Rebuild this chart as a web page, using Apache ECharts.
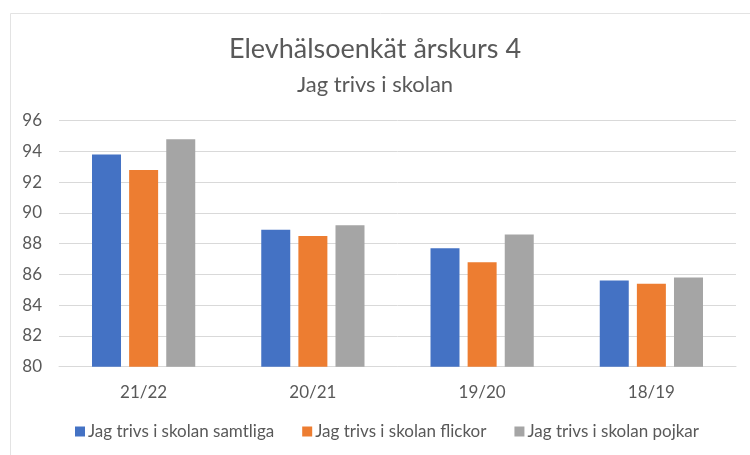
<!DOCTYPE html>
<html>
<head>
<meta charset="utf-8">
<script src="https://cdn.jsdelivr.net/npm/echarts@6/dist/echarts.min.js"></script>
<style>
  html, body { margin: 0; padding: 0; background: #fff; }
  #chart { width: 750px; height: 455px; }
</style>
</head>
<body>
<div id="chart"></div>
<script>
const categories = ['21/22', '20/21', '19/20', '18/19'];
const seriesNames = ['Jag trivs i skolan samtliga', 'Jag trivs i skolan flickor', 'Jag trivs i skolan pojkar'];
const samtliga = [93.8, 88.9, 87.7, 85.6];
const flickor = [92.8, 88.5, 86.8, 85.4];
const pojkar = [94.8, 89.2, 88.6, 85.8];
const colors = ['#4472C4', '#ED7D31', '#A5A5A5'];

const font = 'Lato';
const chart = echarts.init(document.getElementById('chart'));

const makeBar = (name, data) => ({
  name,
  type: 'bar',
  barWidth: 29,
  barGap: '28%',
  data,
});

chart.setOption({
  animation: false,
  color: colors,
  graphic: [
    {
      type: 'rect',
      shape: { x: 10.5, y: 13.5, width: 760, height: 460 },
      style: { fill: 'none', stroke: '#e3e3e3', lineWidth: 1 },
      silent: true,
    },
  ],
  title: [
    {
      text: 'Elevhälsoenkät årskurs 4',
      left: 'center',
      top: 31,
      textStyle: { fontFamily: font, fontSize: 27, fontWeight: 'normal', color: '#595959' },
    },
    {
      text: 'Jag trivs i skolan',
      left: 'center',
      top: 69,
      textStyle: { fontFamily: font, fontSize: 22, fontWeight: 'normal', color: '#595959' },
    },
  ],
  legend: {
    bottom: 10,
    left: 70,
    itemWidth: 10,
    itemHeight: 10,
    itemGap: 28,
    icon: 'rect',
    textStyle: { fontFamily: font, fontSize: 17, color: '#595959', padding: [0, 0, 0, -2] },
    data: seriesNames,
  },
  grid: { left: 59, right: 14, top: 120.7, bottom: 88.3 },
  xAxis: {
    type: 'category',
    data: categories,
    axisTick: { show: false },
    axisLine: { lineStyle: { color: '#d9d9d9' } },
    axisLabel: { fontFamily: font, fontSize: 17, color: '#595959', margin: 17 },
  },
  yAxis: {
    type: 'value',
    min: 80,
    max: 96,
    interval: 2,
    axisLine: { show: false },
    axisTick: { show: false },
    splitLine: { lineStyle: { color: '#d9d9d9' } },
    axisLabel: { fontFamily: font, fontSize: 17, color: '#595959', margin: 17 },
  },
  series: [
    makeBar(seriesNames[0], samtliga),
    makeBar(seriesNames[1], flickor),
    makeBar(seriesNames[2], pojkar),
  ],
});
</script>
</body>
</html>
